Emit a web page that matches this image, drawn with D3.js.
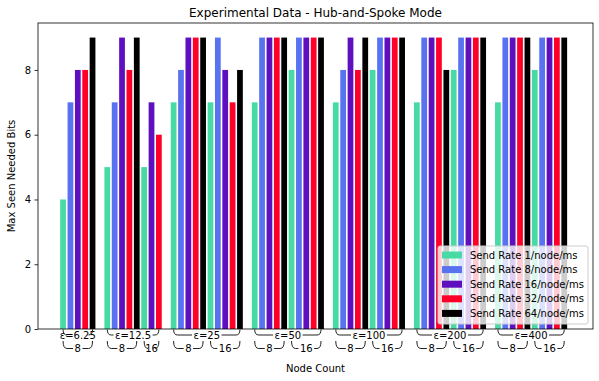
<!DOCTYPE html>
<html>
<head>
<meta charset="utf-8">
<script src="https://cdn.jsdelivr.net/npm/d3@7"></script>
<style>
  body { margin: 0; background: #fff; }
  svg text { font-family: "DejaVu Sans", sans-serif; }
</style>
</head>
<body>
<svg id="chart" width="599" height="381"></svg>
<script>
// chart data, one value per node-count group: [n=8, n=16], null = no run
const epsLabels = ['ε=6.25', 'ε=12.5', 'ε=25', 'ε=50', 'ε=100', 'ε=200', 'ε=400']
const nodeCounts = ['8', '16']
const seriesNames = ['Send Rate 1/node/ms', 'Send Rate 8/node/ms', 'Send Rate 16/node/ms',
  'Send Rate 32/node/ms', 'Send Rate 64/node/ms']
const rate1  = [[4, null], [5, 5], [7, 7], [7, 8], [7, 8], [7, 8], [7, 8]]
const rate8  = [[7, null], [7, null], [8, 9], [9, 9], [8, 9], [9, 9], [9, 9]]
const rate16 = [[8, null], [9, 7], [9, 8], [9, 9], [9, 9], [9, 9], [9, 9]]
const rate32 = [[8, null], [8, 6], [9, 7], [9, 9], [8, 9], [9, 9], [9, 9]]
const rate64 = [[9, null], [9, null], [9, 8], [9, 9], [9, 9], [8, 9], [9, 9]]
const yTicks = [0, 2, 4, 6, 8]

const series = [rate1, rate8, rate16, rate32, rate64]
const colors = ['#48daa4', '#5872f0', '#5f10be', '#ff0029', '#000000']

const svg = d3.select('#chart')
const axLeft = 38, axRight = 593, axTop = 23, axBottom = 329

// lay bars out one slot after another, skipping missing ones, with an empty slot between ε clusters
let bars = [], epsSpans = [], nSpans = []
let idx = 0
epsLabels.forEach((eps, e) => {
  const epsStart = idx
  nodeCounts.forEach((n, g) => {
    const gStart = idx
    series.forEach((s, k) => {
      const v = s[e][g]
      if (v !== null) {
        bars.push({ i: idx, v: v, k: k })
        idx++
      }
    })
    if (idx > gStart) nSpans.push({ a: gStart, b: idx - 1, label: n })
  })
  epsSpans.push({ a: epsStart, b: idx - 1, label: eps })
  idx++
})
const lastIdx = idx - 2

const x = d3.scaleLinear().domain([-3.4, lastIdx + 3.9]).range([axLeft, axRight])
const y = d3.scaleLinear().domain([0, 9.45]).range([axBottom, axTop])
const bw = (x(1) - x(0)) * 0.78

// bars
svg.append('g')
  .selectAll('rect')
  .data(bars)
  .join('rect')
  .attr('x', d => x(d.i) - bw / 2)
  .attr('y', d => y(d.v))
  .attr('width', bw)
  .attr('height', d => y(0) - y(d.v))
  .attr('fill', d => colors[d.k])

// y axis
const yAxis = d3.axisLeft(y).tickValues(yTicks).tickSize(3.5).tickPadding(3.5)
const gy = svg.append('g').attr('transform', `translate(${axLeft},0)`).call(yAxis)
gy.select('.domain').remove()
gy.selectAll('text').attr('font-size', 10).attr('fill', '#000').style('font-family', 'DejaVu Sans')
gy.selectAll('line').attr('stroke', '#000').attr('stroke-width', 0.8)

// frame
svg.append('rect')
  .attr('x', axLeft).attr('y', axTop)
  .attr('width', axRight - axLeft).attr('height', axBottom - axTop)
  .attr('fill', 'none').attr('stroke', '#000').attr('stroke-width', 0.8)

// braces under the axis
function brace(span, yTop, yLine, baseline) {
  const x0 = x(span.a), x1 = x(span.b), cx = (x0 + x1) / 2
  const t = svg.append('text')
    .attr('x', cx).attr('y', baseline)
    .attr('text-anchor', 'middle').attr('font-size', 10)
    .text(span.label)
  const tw = t.node().getComputedTextLength()
  const r = Math.min(4, (x1 - x0) / 2)
  const gl = Math.max(x0 + r, cx - tw / 2 - 1.5)
  const gr = Math.min(x1 - r, cx + tw / 2 + 1.5)
  const p = d3.path()
  p.moveTo(x0, yTop)
  p.quadraticCurveTo(x0, yLine, x0 + r, yLine)
  p.lineTo(gl, yLine)
  p.moveTo(x1, yTop)
  p.quadraticCurveTo(x1, yLine, x1 - r, yLine)
  p.lineTo(gr, yLine)
  svg.append('path').attr('d', p.toString())
    .attr('fill', 'none').attr('stroke', '#222').attr('stroke-width', 1)
}
epsSpans.forEach(s => brace(s, 329.5, 335, 338.5))
nSpans.forEach(s => brace(s, 341, 348.5, 352))

// titles
svg.append('text').attr('x', (axLeft + axRight) / 2).attr('y', 17)
  .attr('text-anchor', 'middle').attr('font-size', 12)
  .text('Experimental Data - Hub-and-Spoke Mode')
svg.append('text').attr('x', (axLeft + axRight) / 2).attr('y', 372)
  .attr('text-anchor', 'middle').attr('font-size', 10)
  .text('Node Count')
svg.append('text')
  .attr('transform', `translate(15,${(axTop + axBottom) / 2}) rotate(-90)`)
  .attr('text-anchor', 'middle').attr('font-size', 10)
  .text('Max Seen Needed Bits')

// legend
const lg = svg.append('g').attr('transform', 'translate(438,246)')
lg.append('rect').attr('width', 150).attr('height', 78).attr('rx', 2)
  .attr('fill', '#fff').attr('fill-opacity', 0.8)
  .attr('stroke', '#ccc').attr('stroke-width', 1)
seriesNames.forEach((name, k) => {
  const row = lg.append('g').attr('transform', `translate(4,${9 + k * 14.6})`)
  row.append('rect').attr('x', 0).attr('y', -3.5).attr('width', 20).attr('height', 7)
    .attr('fill', colors[k])
  row.append('text').attr('x', 28).attr('y', 3.6).attr('font-size', 10).text(name)
})
</script>
</body>
</html>
